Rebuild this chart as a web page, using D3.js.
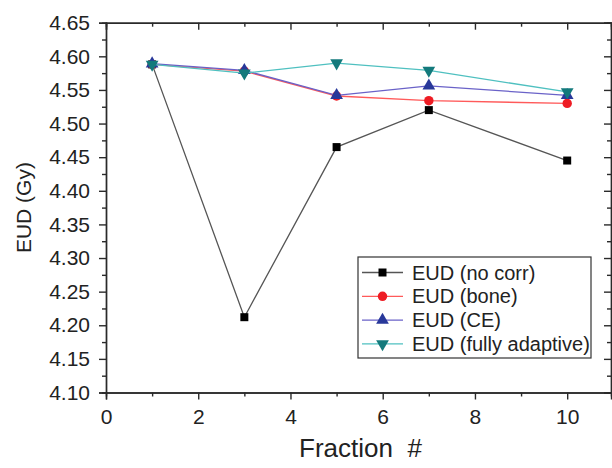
<!DOCTYPE html>
<html>
<head>
<meta charset="utf-8">
<script src="https://cdn.jsdelivr.net/npm/d3@7"></script>
<style>
  body { margin: 0; background: #fff; }
  svg { display: block; font-family: "Liberation Sans", Arial, sans-serif; }
  .axis path, .axis line { stroke: #2a2a2a; stroke-width: 1.4; }
  .axis text { fill: #222; font-size: 21px; }
</style>
</head>
<body>
<svg id="chart"></svg>
<script>
// fractions and EUD values
const fractions = [1, 3, 5, 7, 10];
const eudNoCorr = [4.588, 4.212, 4.465, 4.520, 4.445];
const eudBone = [4.588, 4.578, 4.541, 4.534, 4.530];
const eudCE = [4.589, 4.579, 4.542, 4.556, 4.542];
const eudFully = [4.588, 4.575, 4.590, 4.579, 4.547];
const seriesNames = ["EUD (no corr)", "EUD (bone)", "EUD (CE)", "EUD (fully adaptive)"];
const xTicks = [0, 2, 4, 6, 8, 10];
const yTicks = [4.10, 4.15, 4.20, 4.25, 4.30, 4.35, 4.40, 4.45, 4.50, 4.55, 4.60, 4.65];

const w = 612, h = 468;
const margin = {top: 22.7, right: 1, bottom: 75.5, left: 106};

const svg = d3.select("#chart").attr("width", w).attr("height", h);

const x = d3.scaleLinear().domain([0, 10.95]).range([margin.left, w - margin.right]);
const y = d3.scaleLinear().domain([4.10, 4.65]).range([h - margin.bottom, margin.top]);

// minor tick positions (between majors)
const xMinor = d3.range(1, 11, 2);
const yMinor = yTicks.slice(0, -1).map(d => d + 0.025);

// bottom
svg.append("g").attr("class", "axis")
   .attr("transform", `translate(0,${y(4.10)})`)
   .call(d3.axisBottom(x).tickValues(xMinor).tickSize(4).tickFormat(""));
svg.append("g").attr("class", "axis")
   .attr("transform", `translate(0,${y(4.10)})`)
   .call(d3.axisBottom(x).tickValues(xTicks).tickSize(7).tickPadding(10).tickFormat(d3.format("d")));

// top (ticks inward)
svg.append("g").attr("class", "axis")
   .attr("transform", `translate(0,${y(4.65)})`)
   .call(d3.axisTop(x).tickValues(xMinor).tickSize(-4).tickFormat(""));
svg.append("g").attr("class", "axis")
   .attr("transform", `translate(0,${y(4.65)})`)
   .call(d3.axisTop(x).tickValues(xTicks).tickSize(-7).tickFormat(""));

// left
svg.append("g").attr("class", "axis")
   .attr("transform", `translate(${x(0)},0)`)
   .call(d3.axisLeft(y).tickValues(yMinor).tickSize(4).tickFormat(""));
svg.append("g").attr("class", "axis")
   .attr("transform", `translate(${x(0)},0)`)
   .call(d3.axisLeft(y).tickValues(yTicks).tickSize(7).tickPadding(9).tickFormat(d3.format(".2f")));

// right (ticks inward)
svg.append("g").attr("class", "axis")
   .attr("transform", `translate(${x(10.95)},0)`)
   .call(d3.axisRight(y).tickValues(yMinor).tickSize(-4).tickFormat(""));
svg.append("g").attr("class", "axis")
   .attr("transform", `translate(${x(10.95)},0)`)
   .call(d3.axisRight(y).tickValues(yTicks).tickSize(-7).tickFormat(""));

svg.selectAll(".axis .domain").attr("stroke-width", 1.6);

// axis titles
svg.append("text")
   .attr("x", (x(0) + x(10.95)) / 2 + 2)
   .attr("y", 457)
   .attr("text-anchor", "middle")
   .attr("font-size", 26)
   .attr("fill", "#222")
   .text("Fraction  #")
   .attr("xml:space", "preserve")
   .style("white-space", "pre");

svg.append("text")
   .attr("transform", `translate(31,${(y(4.10) + y(4.65)) / 2}) rotate(-90)`)
   .attr("text-anchor", "middle")
   .attr("font-size", 21)
   .attr("fill", "#222")
   .text("EUD (Gy)");

// series
const series = [
  {name: seriesNames[0], values: eudNoCorr, line: "#555", fill: "#000", shape: d3.symbolSquare, size: 64, rot: 0},
  {name: seriesNames[1], values: eudBone, line: "#ff5a5a", fill: "#ee1c24", shape: d3.symbolCircle, size: 70, rot: 0},
  {name: seriesNames[2], values: eudCE, line: "#6a62c8", fill: "#28389a", shape: d3.symbolTriangle, size: 70, rot: 0},
  {name: seriesNames[3], values: eudFully, line: "#4fc0c0", fill: "#137a7c", shape: d3.symbolTriangle, size: 70, rot: 180}
];

const line = d3.line().x(d => x(d[0])).y(d => y(d[1]));

series.forEach(s => {
  const pts = fractions.map((f, i) => [f, s.values[i]]);
  svg.append("path")
     .datum(pts)
     .attr("fill", "none")
     .attr("stroke", s.line)
     .attr("stroke-width", 1.3)
     .attr("d", line);
  svg.selectAll(null)
     .data(pts)
     .enter()
     .append("path")
     .attr("d", d3.symbol().type(s.shape).size(s.size))
     .attr("transform", d => `translate(${x(d[0])},${y(d[1])}) rotate(${s.rot})`)
     .attr("fill", s.fill);
});

// legend
const legend = svg.append("g").attr("transform", "translate(358,257)");
legend.append("rect")
      .attr("width", 233)
      .attr("height", 101)
      .attr("fill", "#fff")
      .attr("stroke", "#333")
      .attr("stroke-width", 1.2);

const item = legend.selectAll(".item")
                   .data(series)
                   .enter()
                   .append("g")
                   .attr("transform", (d, i) => `translate(0,${15.5 + i * 23.8})`);

item.append("line")
    .attr("x1", 4).attr("x2", 45)
    .attr("stroke", d => d.line)
    .attr("stroke-width", 1.3);

item.append("path")
    .attr("d", d => d3.symbol().type(d.shape).size(d.size)())
    .attr("transform", d => `translate(24.5,0) rotate(${d.rot})`)
    .attr("fill", d => d.fill);

item.append("text")
    .attr("x", 54)
    .attr("dy", "0.35em")
    .attr("font-size", 20)
    .attr("fill", "#222")
    .text(d => d.name);
</script>
</body>
</html>
